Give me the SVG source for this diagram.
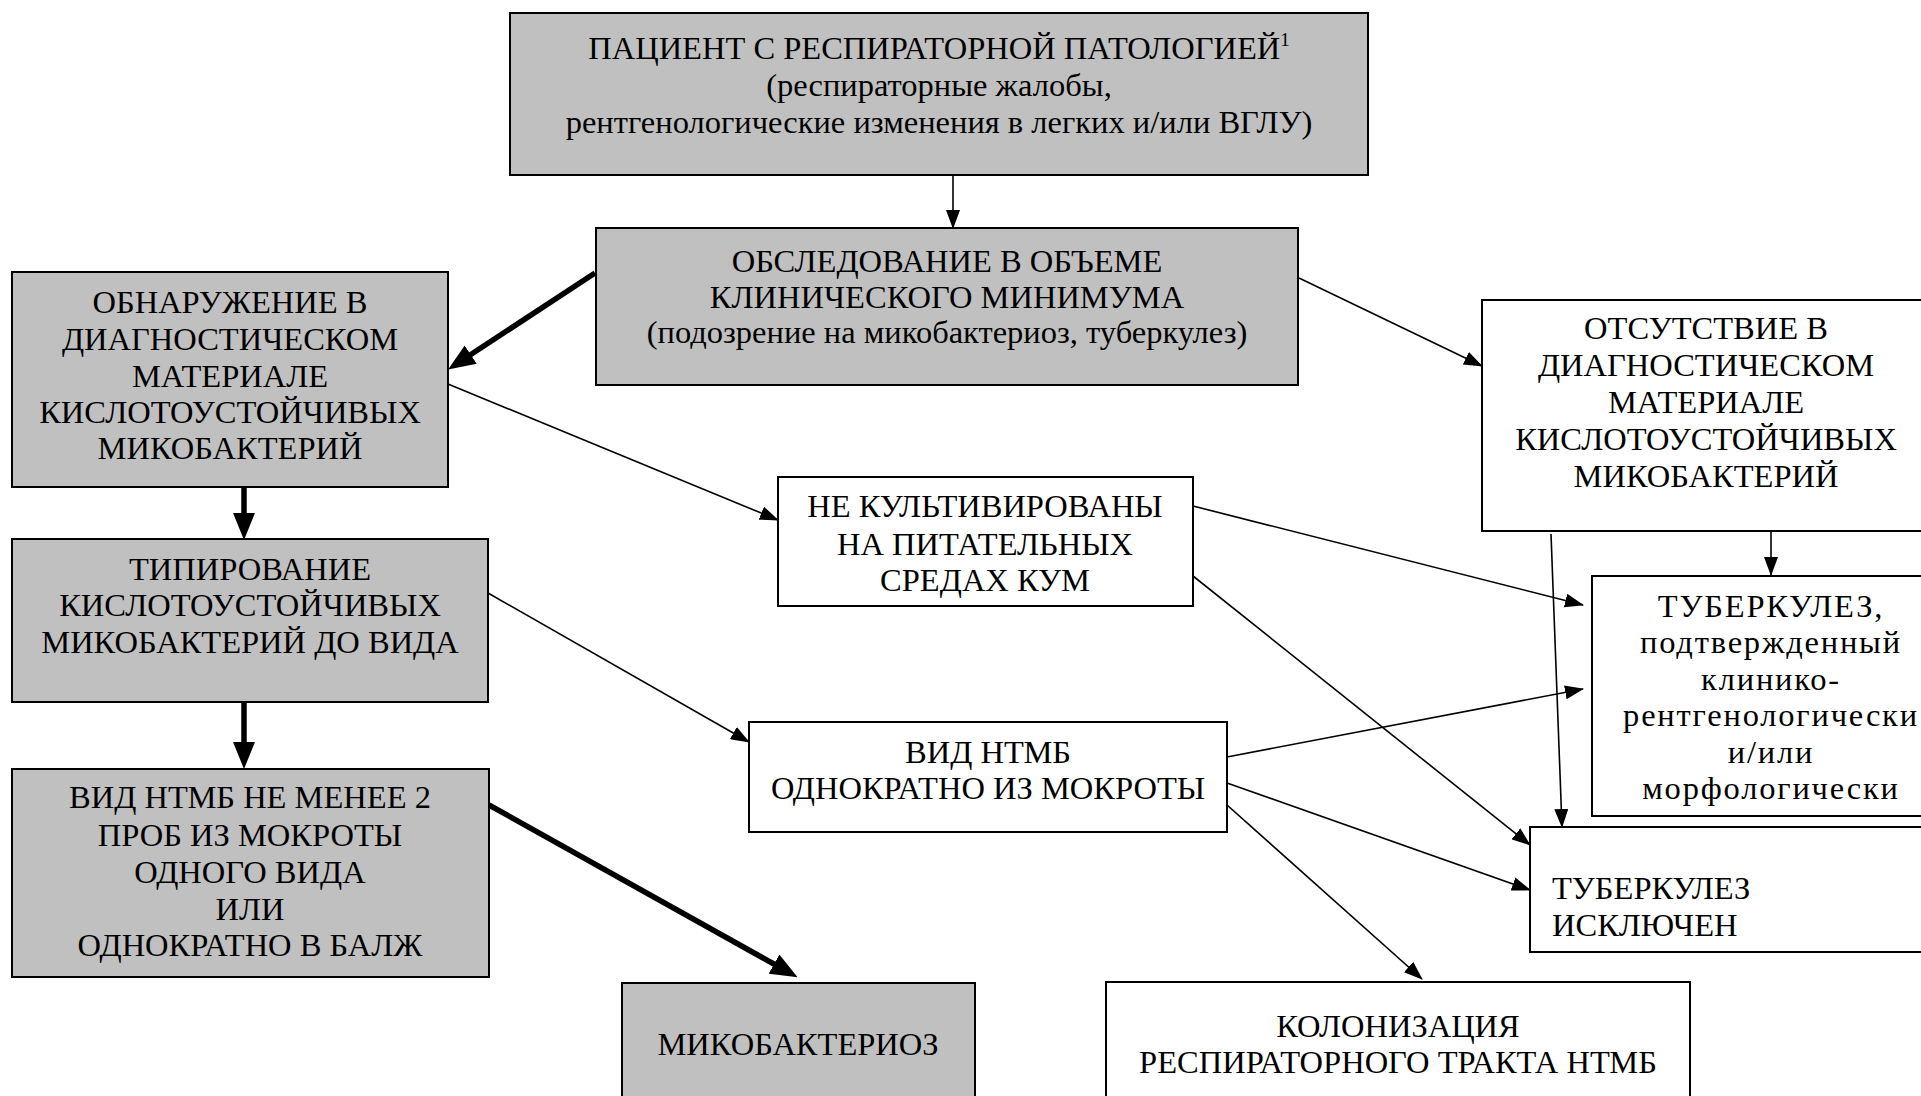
<svg xmlns="http://www.w3.org/2000/svg" width="1921" height="1096" viewBox="0 0 1921 1096">
<style>
.box{stroke:#000;stroke-width:2}
.g{fill:#c0c0c0}
.w{fill:#fff}
text{font-family:"Liberation Serif","Times New Roman",serif;font-size:32.5px;fill:#000}
.c{text-anchor:middle}
.sp{letter-spacing:1.8px}
.thin{stroke:#000;stroke-width:1.6;fill:none}
.thick{stroke:#000;stroke-width:5.5;fill:none}
</style>
<defs>
<marker id="ah" markerUnits="userSpaceOnUse" markerWidth="19" markerHeight="14" refX="18" refY="7" orient="auto">
<path d="M0,0 L19,7 L0,14 z" fill="#000"/>
</marker>
<marker id="ahb" markerUnits="userSpaceOnUse" markerWidth="27" markerHeight="22" refX="8" refY="11" orient="auto">
<path d="M0,0 L27,11 L0,22 z" fill="#000"/>
</marker>
</defs>
<rect width="1921" height="1096" fill="#fff"/>

<g id="connectors">
<line class="thin" x1="953" y1="175" x2="953" y2="228" marker-end="url(#ah)"/>
<line class="thick" x1="595" y1="273" x2="464" y2="359" marker-end="url(#ahb)"/>
<line class="thin" x1="1299" y1="278" x2="1482" y2="366" marker-end="url(#ah)"/>
<line class="thin" x1="448" y1="384" x2="778" y2="520" marker-end="url(#ah)"/>
<line class="thick" x1="244" y1="487" x2="244" y2="521" marker-end="url(#ahb)"/>
<line class="thick" x1="244" y1="703" x2="244" y2="750" marker-end="url(#ahb)"/>
<line class="thin" x1="488" y1="593" x2="749" y2="742" marker-end="url(#ah)"/>
<line class="thick" x1="489" y1="805" x2="781" y2="968" marker-end="url(#ahb)"/>
<line class="thin" x1="1193" y1="506" x2="1583" y2="605" marker-end="url(#ah)"/>
<line class="thin" x1="1193" y1="576" x2="1530" y2="845" marker-end="url(#ah)"/>
<line class="thin" x1="1227" y1="757" x2="1583" y2="689" marker-end="url(#ah)"/>
<line class="thin" x1="1227" y1="783" x2="1530" y2="890" marker-end="url(#ah)"/>
<line class="thin" x1="1227" y1="805" x2="1422" y2="979" marker-end="url(#ah)"/>
<line class="thin" x1="1771" y1="531" x2="1771" y2="575" marker-end="url(#ah)"/>
<line class="thin" x1="1551" y1="534" x2="1562" y2="827" marker-end="url(#ah)"/>
</g>

<g id="n-patient">
<rect class="box g" x="510" y="13" width="858" height="162"/>
<text class="c" x="939" y="59">ПАЦИЕНТ С РЕСПИРАТОРНОЙ ПАТОЛОГИЕЙ<tspan font-size="19" dy="-13">1</tspan></text>
<text class="c" x="939" y="96">(респираторные жалобы,</text>
<text class="c" x="939" y="133">рентгенологические изменения в легких и/или ВГЛУ)</text>
</g>

<g id="n-exam">
<rect class="box g" x="596" y="228" width="702" height="157"/>
<text class="c" x="947" y="272">ОБСЛЕДОВАНИЕ В ОБЪЕМЕ</text>
<text class="c" x="947" y="308">КЛИНИЧЕСКОГО МИНИМУМА</text>
<text class="c" x="947" y="343">(подозрение на микобактериоз, туберкулез)</text>
</g>

<g id="n-found">
<rect class="box g" x="12" y="272" width="436" height="215"/>
<text class="c" x="230" y="313">ОБНАРУЖЕНИЕ В</text>
<text class="c" x="230" y="350">ДИАГНОСТИЧЕСКОМ</text>
<text class="c" x="230" y="387">МАТЕРИАЛЕ</text>
<text class="c" x="230" y="423">КИСЛОТОУСТОЙЧИВЫХ</text>
<text class="c" x="230" y="459">МИКОБАКТЕРИЙ</text>
</g>

<g id="n-typing">
<rect class="box g" x="12" y="539" width="476" height="163"/>
<text class="c" x="250" y="580">ТИПИРОВАНИЕ</text>
<text class="c" x="250" y="616">КИСЛОТОУСТОЙЧИВЫХ</text>
<text class="c" x="250" y="653">МИКОБАКТЕРИЙ ДО ВИДА</text>
</g>

<g id="n-ntmb2">
<rect class="box g" x="12" y="769" width="477" height="208"/>
<text class="c" x="250" y="808">ВИД НТМБ НЕ МЕНЕЕ 2</text>
<text class="c" x="250" y="846">ПРОБ ИЗ МОКРОТЫ</text>
<text class="c" x="250" y="883">ОДНОГО ВИДА</text>
<text class="c" x="250" y="920">ИЛИ</text>
<text class="c" x="250" y="956">ОДНОКРАТНО В БАЛЖ</text>
</g>

<g id="n-myco">
<rect class="box g" x="622" y="983" width="353" height="130"/>
<text class="c" x="798" y="1055">МИКОБАКТЕРИОЗ</text>
</g>

<g id="n-notcult">
<rect class="box w" x="778" y="477" width="415" height="129"/>
<text class="c" x="985" y="517">НЕ КУЛЬТИВИРОВАНЫ</text>
<text class="c" x="985" y="555">НА ПИТАТЕЛЬНЫХ</text>
<text class="c" x="985" y="591">СРЕДАХ КУМ</text>
</g>

<g id="n-ntmb1">
<rect class="box w" x="749" y="722" width="478" height="110"/>
<text class="c" x="988" y="763">ВИД НТМБ</text>
<text class="c" x="988" y="799">ОДНОКРАТНО ИЗ МОКРОТЫ</text>
</g>

<g id="n-absent">
<rect class="box w" x="1482" y="300" width="460" height="231"/>
<text class="c" x="1706" y="339">ОТСУТСТВИЕ В</text>
<text class="c" x="1706" y="376">ДИАГНОСТИЧЕСКОМ</text>
<text class="c" x="1706" y="413">МАТЕРИАЛЕ</text>
<text class="c" x="1706" y="450">КИСЛОТОУСТОЙЧИВЫХ</text>
<text class="c" x="1706" y="487">МИКОБАКТЕРИЙ</text>
</g>

<g id="n-tbconf">
<rect class="box w" x="1592" y="576" width="350" height="240"/>
<text class="c sp" x="1771" y="617">ТУБЕРКУЛЕЗ,</text>
<text class="c sp" x="1771" y="653">подтвержденный</text>
<text class="c sp" x="1771" y="690">клинико-</text>
<text class="c sp" x="1771" y="726">рентгенологически</text>
<text class="c sp" x="1771" y="763">и/или</text>
<text class="c sp" x="1771" y="799">морфологически</text>
</g>

<g id="n-tbexcl">
<rect class="box w" x="1530" y="827" width="412" height="125"/>
<text x="1552" y="899">ТУБЕРКУЛЕЗ</text>
<text x="1552" y="936">ИСКЛЮЧЕН</text>
</g>

<g id="n-colon">
<rect class="box w" x="1106" y="982" width="584" height="130"/>
<text class="c" x="1398" y="1037">КОЛОНИЗАЦИЯ</text>
<text class="c" x="1398" y="1073">РЕСПИРАТОРНОГО ТРАКТА НТМБ</text>
</g>
</svg>
